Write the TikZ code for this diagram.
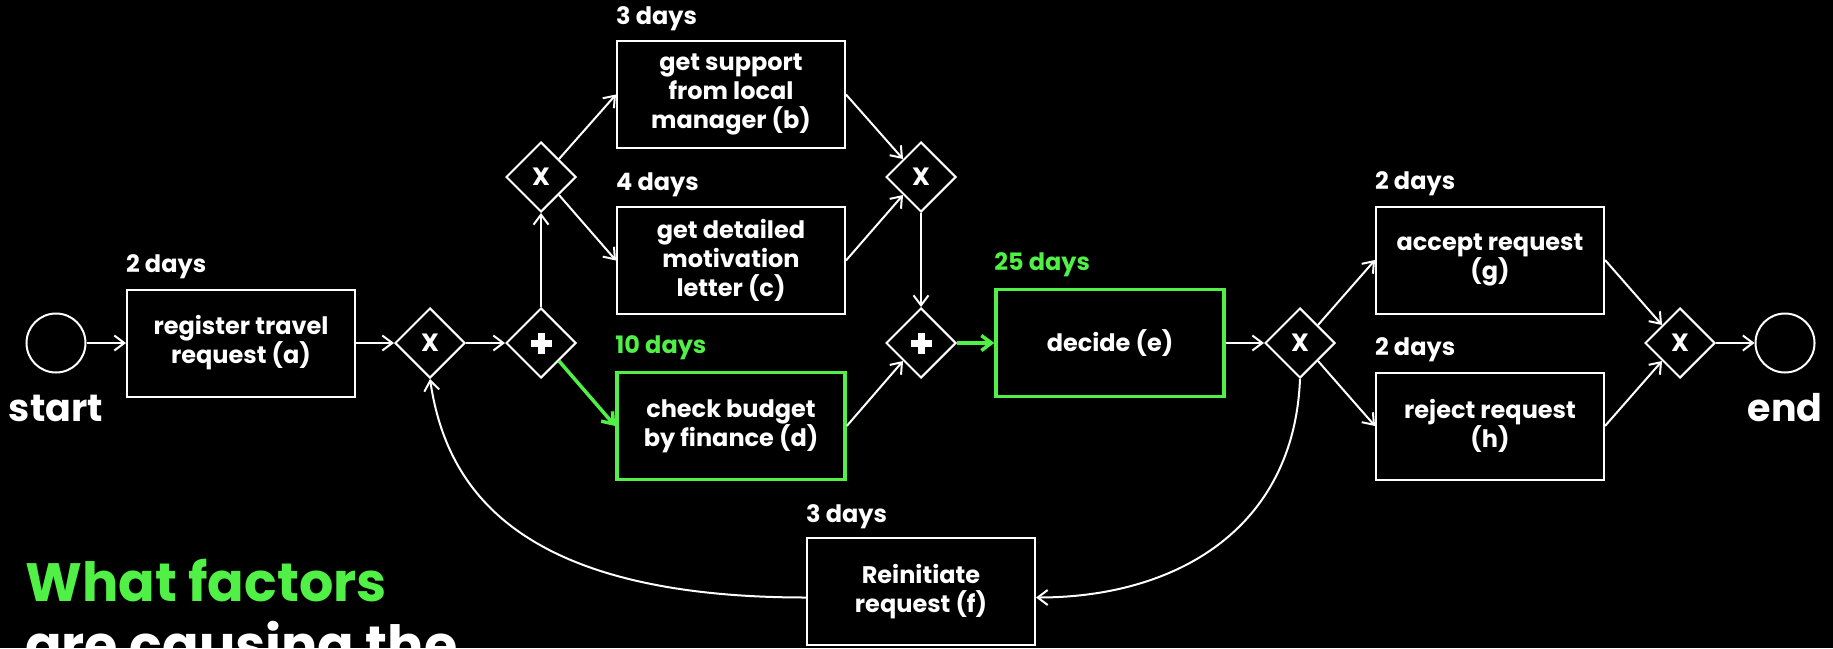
\documentclass[tikz,border=0pt]{standalone}
\usepackage{fontspec}
\setmainfont{Poppins}
\usetikzlibrary{arrows.meta,shapes.geometric}
\definecolor{hl}{RGB}{80,240,70}
\begin{document}
\begin{tikzpicture}[x=1pt,y=-1pt,
  every node/.style={text=white},
  box/.style={draw=white,line width=2pt,minimum width=228pt,minimum height=107pt,align=center,inner sep=0pt,font=\fontsize{24}{29}\selectfont\bfseries},
  hlbox/.style={box,draw=hl,line width=3.5pt},
  gate/.style={diamond,draw=white,line width=2pt,minimum width=70pt,minimum height=70pt,inner sep=0pt,font=\fontsize{25}{25}\selectfont\bfseries},
  pgate/.style={gate,path picture={
      \fill[white] ([xshift=-10.5pt,yshift=-3.5pt]path picture bounding box.center) rectangle ([xshift=10.5pt,yshift=3.5pt]path picture bounding box.center);
      \fill[white] ([xshift=-3.5pt,yshift=-10.5pt]path picture bounding box.center) rectangle ([xshift=3.5pt,yshift=10.5pt]path picture bounding box.center);}},
  event/.style={circle,draw=white,line width=2pt,minimum size=59pt,inner sep=0pt},
  days/.style={anchor=base west,inner sep=0pt,font=\fontsize{24}{29}\selectfont\bfseries},
  big/.style={font=\fontsize{38}{44}\selectfont\bfseries,inner sep=0pt},
  question/.style={anchor=base west,inner sep=0pt,font=\fontsize{54}{63}\selectfont\bfseries},
  flow/.style={draw=white,line width=2pt,-{Straight Barb[length=10pt,width=15pt]}},
  hlflow/.style={flow,draw=hl,line width=3.5pt},
]
\useasboundingbox (0,0) rectangle (1833,648);
\clip (0,0) rectangle (1833,648);
\fill[black] (0,0) rectangle (1833,648);

% events
\node[event] (startev) at (56,343) {};
\node[big] (startlbl) at (56,408) {start};
\node[event] (endev) at (1785,343) {};
\node[big] (endlbl) at (1785,408) {end};

% tasks
\node[box] (a) at (241,343) {register travel\\request (a)};
\node[box] (b) at (731,94.5) {get support\\from local\\manager (b)};
\node[box] (c) at (731,260.5) {get detailed\\motivation\\letter (c)};
\node[hlbox] (d) at (731,426) {check budget\\by finance (d)};
\node[hlbox] (e) at (1110,343) {decide (e)};
\node[box] (g) at (1490,260) {accept request\\(g)};
\node[box] (h) at (1490,426) {reject request\\(h)};
\node[box] (f) at (921,591.5) {Reinitiate\\request (f)};

% durations
\node[days] (da) at ([yshift=16pt]a.north west) {2 days};
\node[days] (db) at ([yshift=16pt]b.north west) {3 days};
\node[days] (dc) at ([yshift=16pt]c.north west) {4 days};
\node[days,text=hl] (dd) at ([yshift=17pt]d.north west) {10 days};
\node[days,text=hl] (de) at ([yshift=17pt]e.north west) {25 days};
\node[days] (dg) at ([yshift=16pt]g.north west) {2 days};
\node[days] (dh) at ([yshift=16pt]h.north west) {2 days};
\node[days] (df) at ([yshift=15pt]f.north west) {3 days};

% gateways
\node[gate] (x1) at (430,343) {X};
\node[pgate] (p1) at (541,343) {};
\node[gate] (xul) at (541,177) {X};
\node[gate] (xur) at (921,177) {X};
\node[pgate] (p2) at (921,343) {};
\node[gate] (x3) at (1300,343) {X};
\node[gate] (x4) at (1680,343) {X};

% question
\node[question,text=hl] (q1) at (25,601) {What factors};
\node[question] (q2) at (25,664) {are causing the};

% flows
\draw[flow] (startev) -- (a);
\draw[flow] (a) -- (x1);
\draw[flow] (x1) -- (p1);
\draw[flow] (p1) -- (xul);
\draw[flow] (xul.north east) -- (b.west);
\draw[flow] (xul.south east) -- (c.west);
\draw[hlflow] (p1.south east) -- (d.west);
\draw[flow] (b.east) -- (xur.north west);
\draw[flow] (c.east) -- (xur.south west);
\draw[flow] (xur) -- (p2);
\draw[flow] (d.east) -- (p2.south west);
\draw[hlflow] (p2) -- (e);
\draw[flow] (e) -- (x3);
\draw[flow] (x3.north east) -- (g.west);
\draw[flow] (x3.south east) -- (h.west);
\draw[flow] (g.east) -- (x4.north west);
\draw[flow] (h.east) -- (x4.south west);
\draw[flow] (x4) -- (endev);
\draw[flow] (x3.south) .. controls +(-6,150) and +(140,0) .. ([yshift=-6pt]f.east);
\draw[flow] ([yshift=-6pt]f.west) .. controls +(-300,0) and +(15,100) .. (x1.south);
\end{tikzpicture}
\end{document}
